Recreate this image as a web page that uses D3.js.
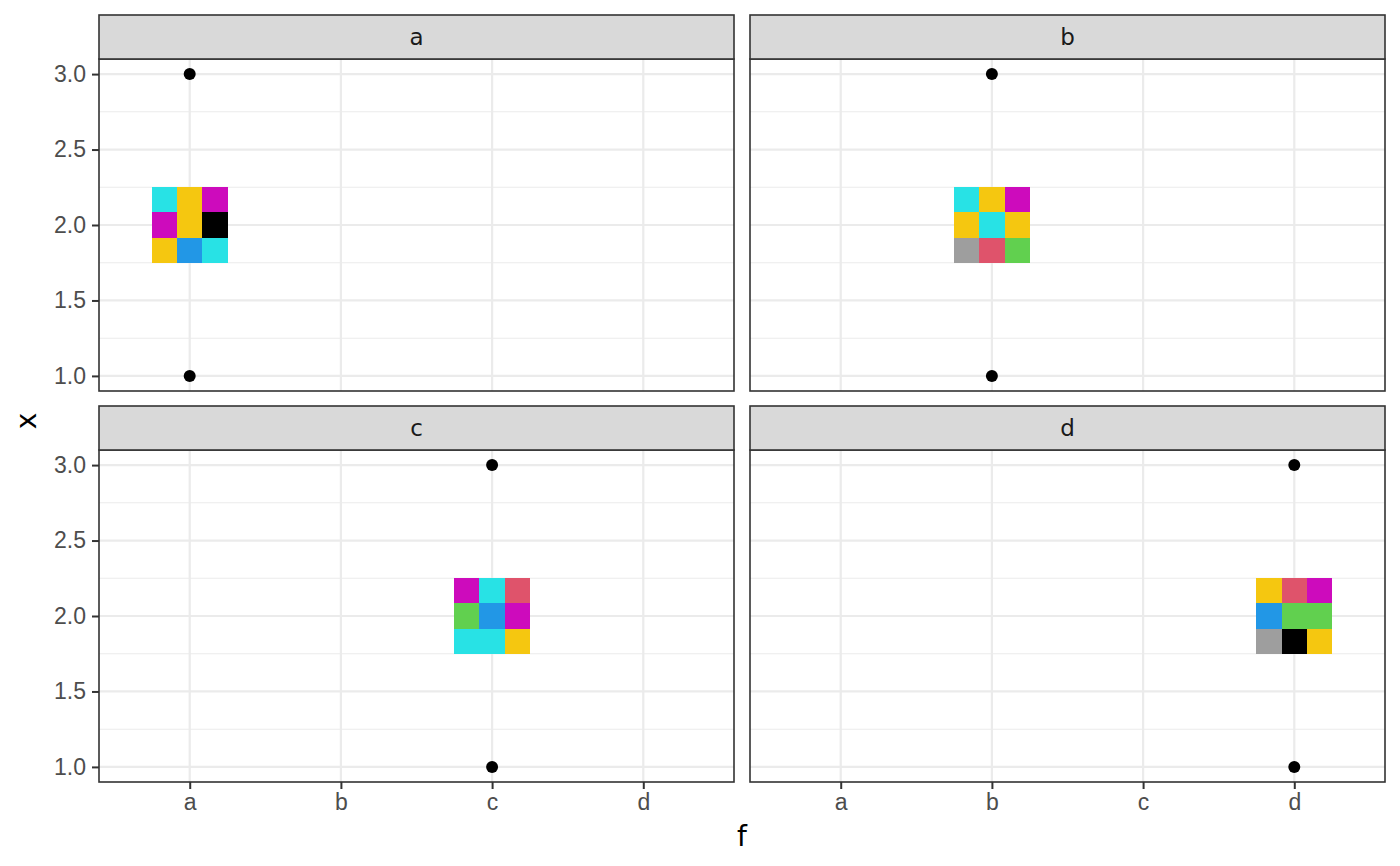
<!DOCTYPE html>
<html lang="en">
<head>
  <meta charset="UTF-8" />
  <title>Facet tiles</title>
  <script src="https://d3js.org/d3.v7.min.js"></script>
  <style>
    body { margin: 0; background: #fff; }
    svg { display: block; font-family: "DejaVu Sans", sans-serif; }
    .tick text { fill: #4D4D4D; font-size: 23px; }
    .tick line { stroke: #333333; stroke-width: 2px; }
    .domain { display: none; }
  </style>
</head>
<body>
<svg width="1400" height="866"></svg>

<script>
  // data
  const facets = ["a", "b", "c", "d"];
  const fLevels = ["a", "b", "c", "d"];
  const yTicks = [1.0, 1.5, 2.0, 2.5, 3.0];
  const yMinor = [1.25, 1.75, 2.25, 2.75];
  const pointY = [1, 3];
  const tileCentreY = 2;
  const tileSize = 0.5;
  // 3x3 cells, read row by row from the top
  const tilesA = ["#28E2E5", "#F5C710", "#CD0BBC", "#CD0BBC", "#F5C710", "#000000", "#F5C710", "#2297E6", "#28E2E5"];
  const tilesB = ["#28E2E5", "#F5C710", "#CD0BBC", "#F5C710", "#28E2E5", "#F5C710", "#9E9E9E", "#DF536B", "#61D04F"];
  const tilesC = ["#CD0BBC", "#28E2E5", "#DF536B", "#61D04F", "#2297E6", "#CD0BBC", "#28E2E5", "#28E2E5", "#F5C710"];
  const tilesD = ["#F5C710", "#DF536B", "#CD0BBC", "#2297E6", "#61D04F", "#61D04F", "#9E9E9E", "#000000", "#F5C710"];
  const tiles = [tilesA, tilesB, tilesC, tilesD];

  const svg = d3.select("svg");

  const panelW = 635, panelH = 332, stripH = 44;
  const colX = [99, 750];
  const rowY = [59, 450]; // panel tops

  const x = d3.scaleLinear().domain([0.4, fLevels.length + 0.6]).range([0, panelW]);
  const y = d3.scaleLinear().domain([0.9, 3.1]).range([panelH, 0]);

  facets.forEach((name, i) => {
    const col = i % 2, row = Math.floor(i / 2);
    const g = svg.append("g").attr("transform", `translate(${colX[col]},${rowY[row]})`);

    // grid
    g.selectAll(".minor").data(yMinor).enter().append("line")
      .attr("x1", 0).attr("x2", panelW)
      .attr("y1", d => y(d)).attr("y2", d => y(d))
      .attr("stroke", "#EBEBEB").attr("stroke-width", 1.1);
    g.selectAll(".majory").data(yTicks).enter().append("line")
      .attr("x1", 0).attr("x2", panelW)
      .attr("y1", d => y(d)).attr("y2", d => y(d))
      .attr("stroke", "#EBEBEB").attr("stroke-width", 2.2);
    g.selectAll(".majorx").data(fLevels).enter().append("line")
      .attr("x1", (d, j) => x(j + 1)).attr("x2", (d, j) => x(j + 1))
      .attr("y1", 0).attr("y2", panelH)
      .attr("stroke", "#EBEBEB").attr("stroke-width", 2.2);

    // tiles
    const cx = fLevels.indexOf(name) + 1;
    const cell = tileSize / 3;
    g.selectAll(".cell").data(tiles[i]).enter().append("rect")
      .attr("shape-rendering", "crispEdges")
      .attr("x", (d, k) => x(cx - tileSize / 2 + (k % 3) * cell))
      .attr("y", (d, k) => y(tileCentreY + tileSize / 2 - Math.floor(k / 3) * cell))
      .attr("width", x(cell) - x(0))
      .attr("height", y(0) - y(cell))
      .attr("fill", d => d);

    // points
    g.selectAll(".pt").data(pointY).enter().append("circle")
      .attr("cx", x(cx)).attr("cy", d => y(d)).attr("r", 6)
      .attr("fill", "#000");

    // border
    g.append("rect").attr("width", panelW).attr("height", panelH)
      .attr("fill", "none").attr("stroke", "#333333").attr("stroke-width", 1.6);

    // strip
    const s = g.append("g").attr("transform", `translate(0,${-stripH})`);
    s.append("rect").attr("width", panelW).attr("height", stripH)
      .attr("fill", "#D9D9D9").attr("stroke", "#333333").attr("stroke-width", 1.6);
    s.append("text").attr("x", panelW / 2).attr("y", stripH / 2 + 8)
      .attr("text-anchor", "middle").attr("fill", "#1A1A1A")
      .style("font-size", "23px").text(name);

    // axes
    if (col === 0) {
      g.append("g")
        .call(d3.axisLeft(y).tickValues(yTicks).tickFormat(d3.format(".1f")).tickSize(7).tickPadding(6));
    }
    if (row === 1) {
      g.append("g").attr("transform", `translate(0,${panelH})`)
        .call(d3.axisBottom(x).tickValues(fLevels.map((d, j) => j + 1))
          .tickFormat((d, j) => fLevels[j]).tickSize(7).tickPadding(5));
    }
  });

  // axis titles
  svg.append("text")
    .attr("transform", "translate(36,421) rotate(-90)")
    .attr("text-anchor", "middle").style("font-size", "28px").text("x");
  svg.append("text")
    .attr("x", (colX[0] + colX[1] + panelW) / 2).attr("y", 846)
    .attr("text-anchor", "middle").style("font-size", "28px").text("f");
</script>
</body>
</html>
